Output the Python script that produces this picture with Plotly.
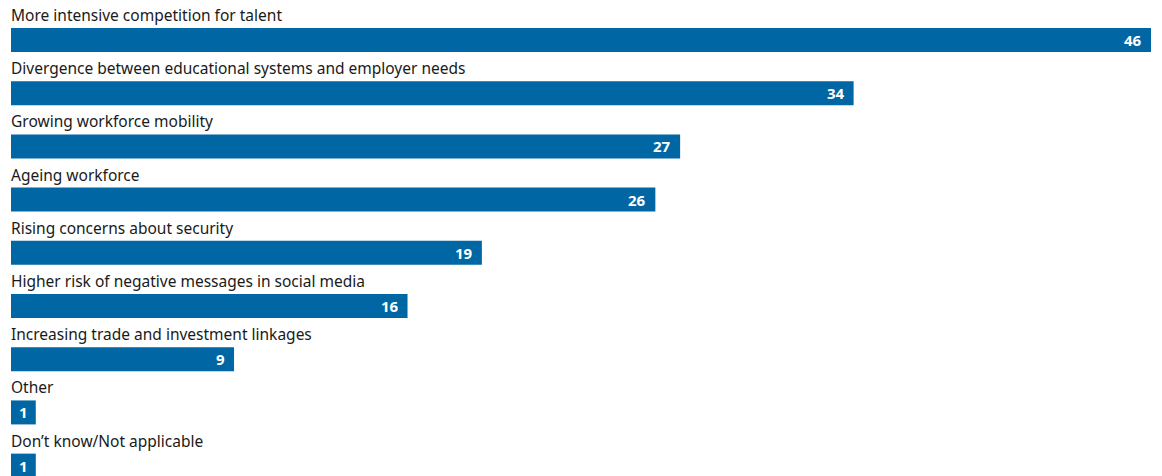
import plotly.graph_objects as go

categories = [
    "More intensive competition for talent",
    "Divergence between educational systems and employer needs",
    "Growing workforce mobility",
    "Ageing workforce",
    "Rising concerns about security",
    "Higher risk of negative messages in social media",
    "Increasing trade and investment linkages",
    "Other",
    "Don\u2019t know/Not applicable",
]
values = [46, 34, 27, 26, 19, 16, 9, 1, 1]

BAR_COLOR = "#0066a4"
TEXT_COLOR = "#1a1a1a"
FONT = "Noto Sans"

ypos = list(range(len(categories)))

fig = go.Figure()
fig.add_trace(go.Bar(
    x=values,
    y=ypos,
    orientation="h",
    marker=dict(color=BAR_COLOR, line=dict(width=0)),
    width=0.451,
    hoverinfo="skip",
))

annotations = []
for i, c in enumerate(categories):
    annotations.append(dict(
        x=0, y=i, xref="x", yref="y",
        text=c, showarrow=False,
        xanchor="left", yanchor="middle",
        yshift=25, xshift=-2,
        font=dict(family=FONT, size=15.5, color=TEXT_COLOR),
    ))
for i, v in enumerate(values):
    single = v < 2
    annotations.append(dict(
        x=v / 2 if single else v, y=i, xref="x", yref="y",
        text="<b>%d</b>" % v, showarrow=False,
        xanchor="center" if single else "right", yanchor="middle",
        xshift=0 if single else -7,
        font=dict(family=FONT, size=15, color="white"),
    ))

fig.update_layout(
    width=1162, height=476,
    margin=dict(l=11, r=11, t=0, b=0),
    paper_bgcolor="white", plot_bgcolor="white",
    showlegend=False,
    annotations=annotations,
    xaxis=dict(range=[0, 46], visible=False, fixedrange=True),
    yaxis=dict(range=[8.195, -0.752], visible=False, fixedrange=True),
)

fig.write_html(
    "out.html",
    config={"displayModeBar": False},
    post_script="document.body.style.margin='0';document.body.style.overflow='hidden';",
)
